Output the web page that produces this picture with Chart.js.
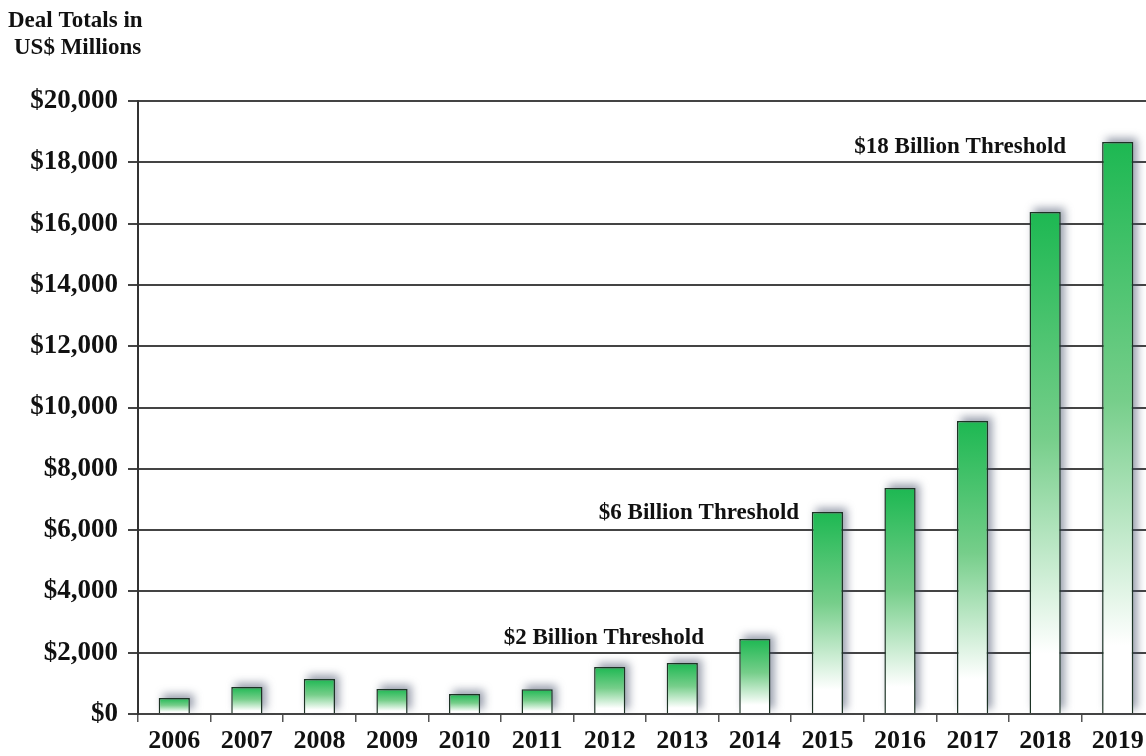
<!DOCTYPE html>
<html>
<head>
<meta charset="utf-8">
<script src="https://cdn.jsdelivr.net/npm/chart.js@4"></script>
<style>
  html, body { margin: 0; padding: 0; background: #fff; overflow: hidden; }
  #wrap { position: relative; width: 1160px; height: 756px; }
</style>
</head>
<body>
<div id="wrap"><canvas id="chart"></canvas></div>
<script>
const years = ['2006','2007','2008','2009','2010','2011','2012','2013','2014','2015','2016','2017','2018','2019'];
const dealTotals = [520, 880, 1140, 815, 650, 810, 1530, 1660, 2450, 6590, 7370, 9560, 16380, 18660];
const yTicks = [0, 2000, 4000, 6000, 8000, 10000, 12000, 14000, 16000, 18000, 20000];
// label text, x position (category index), y position (value)
const thresholdLabels = ['$2 Billion Threshold', '$6 Billion Threshold', '$18 Billion Threshold'];
const thresholdX = [5.92, 7.23, 10.83];
const thresholdY = [2480, 6560, 18500];

const serif = "'Liberation Serif', 'Times New Roman', serif";
const green = '#1db852';

function barFill(ctx) {
    const chart = ctx.chart;
    if (!chart.chartArea || ctx.raw === undefined) return green;
    const y = chart.scales.y;
    const top = y.getPixelForValue(ctx.raw);
    const bottom = y.getPixelForValue(0);
    const g = chart.ctx.createLinearGradient(0, top, 0, bottom);
    g.addColorStop(0, green);
    g.addColorStop(0.45, 'rgb(118,206,138)');
    g.addColorStop(0.88, '#ffffff');
    g.addColorStop(1, '#ffffff');
    return g;
}

// soft blue-grey shadow behind every bar, up and to the right
const barShadow = {
    id: 'barShadow',
    beforeDatasetsDraw(chart) {
        const c = chart.ctx;
        const bars = chart.getDatasetMeta(0).data;
        c.save();
        c.filter = 'blur(4px)';
        c.fillStyle = 'rgba(70,80,105,0.55)';
        bars.forEach(b => {
            const p = b.getProps(['x', 'y', 'base', 'width'], true);
            c.fillRect(p.x - p.width / 2 + 4, p.y - 4, p.width, p.base - p.y);
        });
        c.restore();
    }
};

const textBits = {
    id: 'textBits',
    afterDraw(chart) {
        const c = chart.ctx;
        const xs = chart.scales.x, ys = chart.scales.y;
        const step = xs.getPixelForValue(1) - xs.getPixelForValue(0);
        c.save();
        c.fillStyle = '#111';
        c.font = 'bold 23px ' + serif;
        c.textAlign = 'left';
        c.textBaseline = 'middle';
        c.fillText('Deal Totals in', 8, 21);
        c.fillText('US$ Millions', 14, 48);
        c.font = 'bold 23px ' + serif;
        c.textAlign = 'center';
        for (let i = 0; i < thresholdLabels.length; i++) {
            const px = xs.getPixelForValue(0) + thresholdX[i] * step;
            c.fillText(thresholdLabels[i], px, ys.getPixelForValue(thresholdY[i]));
        }
        c.restore();
    }
};

const chart = new Chart(document.getElementById('chart'), {
    type: 'bar',
    data: {
        labels: years,
        datasets: [{
            data: dealTotals,
            backgroundColor: barFill,
            borderColor: '#1d3325',
            borderWidth: 1.5,
            borderSkipped: 'bottom',
            categoryPercentage: 1,
            barPercentage: 0.43
        }]
    },
    options: {
        responsive: true,
        maintainAspectRatio: false,
        animation: false,
        layout: { padding: { top: 101, right: 6, left: 0, bottom: 0 } },
        plugins: { legend: { display: false }, tooltip: { enabled: false } },
        scales: {
            x: {
                offset: true,
                grid: { offset: true, drawOnChartArea: false, drawTicks: true, tickLength: 8, color: '#555', lineWidth: 1.5 },
                border: { display: true, color: '#444', width: 1.5 },
                ticks: { color: '#111', font: { family: serif, size: 26, weight: 'bold' }, padding: 4, maxRotation: 0, autoSkip: false },
                afterFit(scale) { scale.height = 42; }
            },
            y: {
                min: 0,
                max: 20000,
                afterBuildTicks(scale) { scale.ticks = yTicks.map(v => ({ value: v })); },
                grid: { color: '#444', lineWidth: 2, tickLength: 10 },
                border: { display: true, color: '#333', width: 2 },
                ticks: {
                    color: '#111',
                    padding: 10,
                    font: { family: serif, size: 27, weight: 'bold' },
                    callback: v => '$' + v.toLocaleString('en-US')
                },
                afterFit(scale) { scale.width = 138; }
            }
        }
    },
    plugins: [barShadow, textBits]
});
</script>
</body>
</html>
